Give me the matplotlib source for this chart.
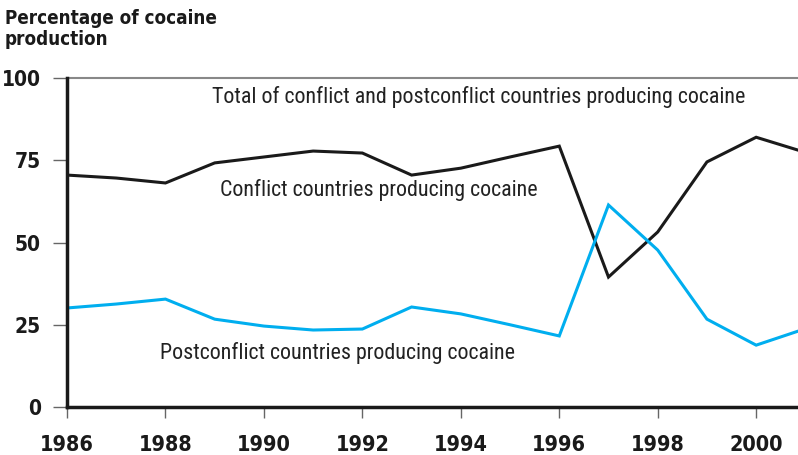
import matplotlib.pyplot as plt

# Data
years = list(range(1986, 2002))
conflict = [70.5, 69.6, 68.1, 74.2, 76.0, 77.8, 77.2, 70.5, 72.6, 76.0, 79.3, 39.5, 53.2, 74.5, 82.0, 77.4]
postconflict = [30.1, 31.3, 32.8, 26.7, 24.6, 23.4, 23.7, 30.4, 28.3, 25.0, 21.6, 61.4, 47.7, 26.7, 18.8, 23.8]
y_ticks = [0, 25, 50, 75, 100]
x_ticks = list(range(1986, 2001, 2))

plt.rcParams['font.family'] = ['Roboto Condensed', 'DejaVu Sans']
heavy = dict(family='DejaVu Sans', stretch='condensed', weight='bold')

fig = plt.figure(figsize=(7.98, 4.55), dpi=100)
ax = fig.add_axes([0.084, 0.1055, 0.916, 0.723])

ax.plot(years, conflict, color='#1a1a1a', lw=2.2, solid_joinstyle='miter')
ax.plot(years, postconflict, color='#00aeef', lw=2.2, solid_joinstyle='miter')

ax.set_xlim(1986, 2000.85)
ax.set_ylim(0, 100)

# grey rule at 100
ax.axhline(100, color='#888888', lw=1.5, clip_on=False)

for s in ['top', 'right']:
    ax.spines[s].set_visible(False)
for s in ['left', 'bottom']:
    ax.spines[s].set_linewidth(2.5)
    ax.spines[s].set_color('#1a1a1a')

ax.set_yticks(y_ticks)
ax.set_xticks(x_ticks)
ax.set_yticklabels([str(v) for v in y_ticks], fontsize=15, **heavy)
ax.set_xticklabels([str(v) for v in x_ticks], fontsize=15.5, **heavy)
ax.tick_params(axis='y', length=10, width=1, color='#666666', pad=9, labelcolor='#1a1a1a')
ax.tick_params(axis='x', length=8, width=1, color='#666666', pad=12, labelcolor='#1a1a1a')

# Line labels
txt = dict(fontsize=15.8, color='#222222', va='center', ha='left')
ax.text(1988.95, 94.2, 'Total of conflict and postconflict countries producing cocaine', **txt)
ax.text(1989.11, 66.0, 'Conflict countries producing cocaine', **txt)
ax.text(1987.89, 16.4, 'Postconflict countries producing cocaine', **txt)

fig.text(0.006, 0.98, 'Percentage of cocaine\nproduction', fontsize=13.5, color='#1a1a1a',
         va='top', ha='left', linespacing=1.12, **heavy)

fig.savefig('out.png', dpi=100)
